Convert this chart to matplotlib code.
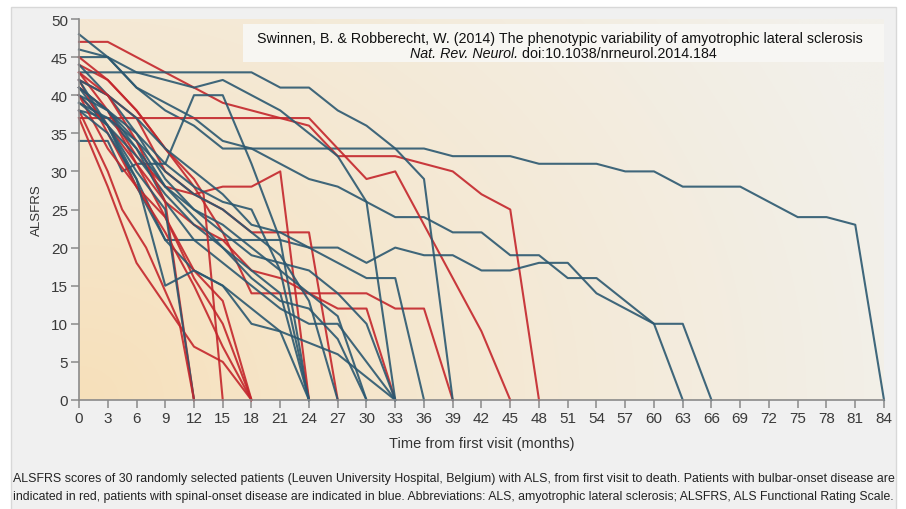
import numpy as np
import matplotlib
matplotlib.use("Agg")
import matplotlib.pyplot as plt
from matplotlib.patches import Rectangle

# ---------------- data ----------------
# spinal-onset patients (blue): months, ALSFRS
blue_months = [
    [0, 3, 6, 9, 12, 15, 36, 39, 45, 48, 54, 57, 60, 63, 69, 75, 78, 81, 84],
    [0, 3, 6, 9, 12, 15, 18, 21, 24, 27, 30, 33, 36, 39, 42, 45, 48, 51, 54, 60, 63, 66],
    [0, 3, 6, 9, 21, 24, 27, 30, 33, 36, 39, 42, 45, 48, 51, 54, 60, 63],
    [0, 18, 21, 24, 27, 30, 33, 36, 39],
    [0, 3, 6, 9, 12, 15, 18, 21, 24, 27, 30, 33],
    [0, 3, 4.5, 6, 9, 12, 15, 18, 21, 24],
    [0, 3, 6, 9, 12, 15, 18, 21, 24, 27, 33],
    [0, 3, 6, 9, 12, 15, 18, 21, 27, 33],
    [0, 3, 6, 9, 12, 15, 18, 21, 24, 27, 30, 33],
    [0, 3, 6, 9, 12, 15, 18, 21, 24, 27, 30],
    [0, 3, 6, 9, 12, 15, 18, 21, 24, 27, 30],
    [0, 3, 6, 9, 12, 15, 18, 21, 24, 27, 30, 33, 36],
    [0, 3, 6, 9, 12],
    [0, 3, 6, 9, 12, 15, 18, 21, 24],
    [0, 3, 6, 9, 12, 15, 18, 21, 24],
    [0, 3, 6, 9, 12, 15, 18, 21, 24, 27],
    [0, 3, 6, 9, 12, 15, 18, 21, 24],
]
blue_scores = [
    [45, 45, 41, 38, 36, 33, 33, 32, 32, 31, 31, 30, 30, 28, 28, 24, 24, 23, 0],
    [48, 45, 41, 39, 37, 34, 33, 31, 29, 28, 26, 24, 24, 22, 22, 19, 19, 16, 16, 10, 10, 0],
    [41, 36, 29, 21, 21, 20, 20, 18, 20, 19, 19, 17, 17, 18, 18, 14, 10, 0],
    [43, 43, 41, 41, 38, 36, 33, 29, 0],
    [46, 45, 43, 42, 41, 42, 40, 38, 35, 32, 26, 0],
    [34, 34, 30, 31, 31, 40, 40, 31, 21, 0],
    [38, 37, 33, 26, 21, 18, 15, 12, 10, 10, 0],
    [40, 36, 28, 21, 17, 15, 10, 9, 6, 0],
    [42, 40, 35, 29, 25, 22, 19, 18, 17, 14, 10, 0],
    [41, 38, 34, 28, 25, 23, 20, 17, 14, 11, 0],
    [39, 36, 32, 27, 23, 20, 16, 13, 12, 8, 0],
    [44, 40, 37, 33, 30, 27, 23, 22, 20, 18, 16, 16, 0],
    [42, 36, 30, 25, 0],
    [40, 38, 35, 31, 28, 26, 25, 17, 0],
    [38, 35, 29, 15, 17, 15, 12, 9, 0],
    [39, 37, 34, 30, 27, 25, 22, 19, 13, 0],
    [41, 38, 33, 28, 24, 20, 17, 14, 0],
]
# bulbar-onset patients (red)
red_months = [
    [0, 3, 6, 9, 12, 15, 18, 21, 24, 27, 33, 39, 42, 45, 48],
    [0, 24, 27, 30, 33, 42, 45],
    [0, 3, 6, 9, 12, 15, 18, 30, 33, 36, 39],
    [0, 3, 6, 9, 12, 15, 18, 21, 24, 27, 30, 33],
    [0, 3, 6, 9, 12, 15, 18, 24, 27],
    [0, 3, 6, 9, 12, 15, 18, 21, 24],
    [0, 3, 6, 9, 12, 15, 18],
    [0, 3, 6, 9, 12, 15, 18],
    [0, 3, 6, 12, 15, 18],
    [0, 3, 6, 9, 12, 15, 18],
    [0, 3, 6, 9, 12, 13, 15],
    [0, 3, 6, 9, 12],
    [0, 3, 4.5, 7, 10.5, 12],
]
red_scores = [
    [47, 47, 45, 43, 41, 39, 38, 37, 36, 32, 32, 30, 27, 25, 0],
    [37, 37, 33, 29, 30, 9, 0],
    [44, 42, 38, 33, 28, 22, 14, 14, 12, 12, 0],
    [40, 36, 31, 26, 23, 21, 17, 16, 14, 12, 12, 0],
    [42, 40, 37, 30, 27, 25, 22, 22, 0],
    [41, 38, 32, 28, 27, 28, 28, 30, 0],
    [43, 38, 31, 24, 16, 10, 0],
    [40, 33, 28, 22, 15, 7, 0],
    [37, 28, 18, 7, 5, 0],
    [42, 35, 28, 24, 17, 13, 0],
    [45, 42, 38, 33, 29, 27, 0],
    [43, 40, 34, 26, 0],
    [38, 30, 25, 20, 10, 0],
]
x_ticks = list(range(0, 85, 3))
y_ticks = list(range(0, 51, 5))

title_line1 = "Swinnen, B. & Robberecht, W. (2014) The phenotypic variability of amyotrophic lateral sclerosis"
title_line2_it = "Nat. Rev. Neurol."
title_line2 = " doi:10.1038/nrneurol.2014.184"
caption1 = ("ALSFRS scores of 30 randomly selected patients (Leuven University Hospital, Belgium) with ALS, "
            "from first visit to death. Patients with bulbar-onset disease are")
caption2 = ("indicated in red, patients with spinal-onset disease are indicated in blue. Abbreviations: ALS, "
            "amyotrophic lateral sclerosis; ALSFRS, ALS Functional Rating Scale.")

# ---------------- figure ----------------
W, H = 906, 510
plt.rcParams["font.family"] = ["Liberation Sans", "DejaVu Sans"]
fig = plt.figure(figsize=(W / 100, H / 100), dpi=100, facecolor="white")

# outer grey panel (behind everything)
fig.patches.append(Rectangle((11 / W, -0.01), (896 - 11) / W, (H - 8) / H + 0.01, transform=fig.transFigure,
                             facecolor="#f0f0f0", edgecolor="#d8d8d8", lw=1.0, zorder=-10))

ax = fig.add_axes([79 / W, 1 - 401 / H, (884 - 79) / W, (401 - 20) / H])
ax.set_zorder(1)
ax.set_xlim(0, 84)
ax.set_ylim(0, 50)
ax.patch.set_visible(False)

# gradient background
nx, ny = 300, 200
u = np.linspace(0, 1, nx)[None, :]
v = np.linspace(0, 1, ny)[:, None]
d = np.sqrt((u / 1.05) ** 2 + (v / 1.9) ** 2)
t = np.clip(d, 0, 1) ** 0.9
c0 = np.array([247, 224, 186]) / 255.0
c1 = np.array([242, 240, 234]) / 255.0
img = c0[None, None, :] * (1 - t[..., None]) + c1[None, None, :] * t[..., None]
ax.imshow(img, extent=[0, 84, 0, 50], origin="lower", aspect="auto", zorder=0, interpolation="bilinear")

blue_c = "#2b5870"
red_c = "#c4262c"
n = max(len(blue_months), len(red_months))
for i in range(n):
    if i < len(blue_months):
        ax.plot(blue_months[i], blue_scores[i], color=blue_c, lw=1.5, alpha=0.9, zorder=2, clip_on=False)
    if i < len(red_months):
        ax.plot(red_months[i], red_scores[i], color=red_c, lw=1.5, alpha=0.9, zorder=2, clip_on=False)

for s in ["top", "right"]:
    ax.spines[s].set_visible(False)
for s in ["left", "bottom"]:
    ax.spines[s].set_color("#8a8a8a")
    ax.spines[s].set_linewidth(1.2)
    ax.spines[s].set_zorder(3)
ax.set_xticks(x_ticks)
ax.set_yticks(y_ticks)
ax.tick_params(axis="both", direction="out", length=6, width=1.1, color="#8a8a8a",
               labelcolor="#3a3a3a", labelsize=11, pad=2)
ax.set_xlabel("Time from first visit (months)", fontsize=10.5, color="#333333", labelpad=8)
ax.set_ylabel("ALSFRS", fontsize=9.5, color="#333333", labelpad=6)

# reference box (inside axes, above lines)
box_ax = fig.add_axes([243 / W, 1 - 63 / H, (884 - 243) / W, (63 - 25) / H])
box_ax.set_zorder(5)
box_ax.set_axis_off()
box_ax.add_patch(Rectangle((0, 0), 1, 1, transform=box_ax.transAxes, facecolor="#f8f7f4",
                           edgecolor="none", alpha=0.95))
fs_t = 10.3
fig.text(560 / W, 1 - 43 / H, title_line1, ha="center", va="baseline", fontsize=fs_t, color="#111111", zorder=6)
t2a = fig.text(0, 1 - 58 / H, title_line2_it, ha="left", va="baseline", fontsize=fs_t,
               style="italic", color="#111111", zorder=6)
t2b = fig.text(0, 1 - 58 / H, title_line2, ha="left", va="baseline", fontsize=fs_t, color="#111111", zorder=6)
fig.canvas.draw()
r = fig.canvas.get_renderer()
wa = t2a.get_window_extent(r).width
wb = t2b.get_window_extent(r).width
x0 = 563 - (wa + wb) / 2
t2a.set_x(x0 / W)
t2b.set_x((x0 + wa) / W)

# caption
c1t = fig.text(13 / W, 1 - 482 / H, caption1, ha="left", va="baseline", fontsize=9, color="#222222")
c2t = fig.text(13 / W, 1 - 500 / H, caption2, ha="left", va="baseline", fontsize=9, color="#222222")
fig.canvas.draw()
for tt, target in [(c1t, 898 - 13), (c2t, 897 - 13)]:
    w = tt.get_window_extent(r).width
    tt.set_fontsize(9 * target / w)

fig.savefig("out.png", dpi=100, facecolor="white")
